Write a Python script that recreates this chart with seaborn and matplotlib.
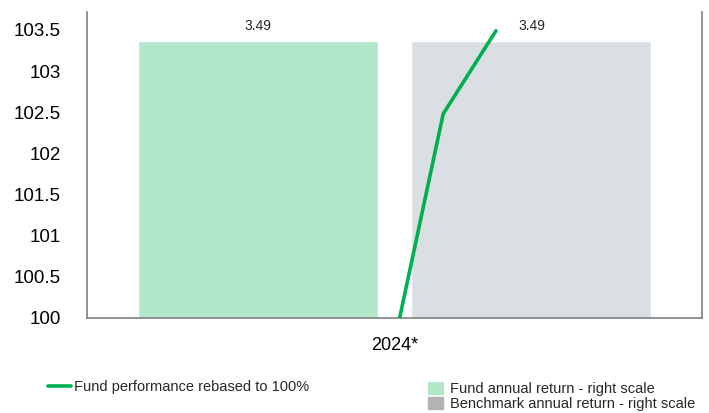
import pandas as pd
import matplotlib.pyplot as plt
from matplotlib.lines import Line2D
from matplotlib.patches import Patch
import seaborn as sns

# ================== DATA ==================
years = ["2024*"]
series = ["Fund annual return - right scale", "Benchmark annual return - right scale"]
annual_returns = [3.49, 3.49]

# fund performance rebased to 100 (x = month position within the year)
perf_months = [6.1, 6.95, 7.98]
perf_values = [100.0, 102.48, 103.49]

fund_color = "#b3e7cc"
bench_color = "#dadfe3"
bench_legend_color = "#b3b3b3"
line_color = "#00b050"
spine_color = "#808080"

sns.set_theme(style="white")
plt.rcParams["font.family"] = ["Liberation Sans", "DejaVu Sans"]

df = pd.DataFrame({"year": years * 2, "series": series, "ret": annual_returns})

fig = plt.figure(figsize=(7.09, 4.13), dpi=100)
rect = [87 / 709, 1 - 318 / 413, (702 - 87) / 709, (318 - 12) / 413]

# ---- bars (right scale, hidden) ----
ax_bar = fig.add_axes(rect)
sns.barplot(data=df, x="year", y="ret", hue="series", ax=ax_bar,
            palette=[fund_color, bench_color], width=0.891, gap=0.124,
            legend=False, saturation=1)
ax_bar.set_ylim(0, 3.855)
ax_bar.set_xlim(-0.5, 0.5)
ax_bar.set_yticks([])
ax_bar.set_ylabel("")
ax_bar.set_xlabel("")
ax_bar.tick_params(axis="x", length=0, pad=14, labelsize=13, colors="#000000")
for c in ax_bar.containers:
    ax_bar.bar_label(c, fmt="%.2f", padding=6, fontsize=10)
for side in ["left", "right", "bottom"]:
    ax_bar.spines[side].set_color(spine_color)
    ax_bar.spines[side].set_linewidth(1.2)
ax_bar.spines["top"].set_visible(False)

# ---- performance line (left scale) ----
ax_line = fig.add_axes(rect, frameon=False)
sns.lineplot(x=perf_months, y=perf_values, ax=ax_line, color=line_color, linewidth=2.6)
ax_line.set_xlim(0, 12)
ax_line.set_ylim(100, 103.718)
ax_line.set_xticks([])
ax_line.set_yticks([100, 100.5, 101, 101.5, 102, 102.5, 103, 103.5])
ax_line.set_yticklabels(["100", "100.5", "101", "101.5", "102", "102.5", "103", "103.5"])
ax_line.tick_params(axis="y", length=0, pad=19, labelsize=13.5, colors="#000000")

# ---- legends ----
fig.legend(handles=[Line2D([], [], color=line_color, linewidth=2.6)],
           labels=["Fund performance rebased to 100%"],
           loc="center left", bbox_to_anchor=(48 / 709, 1 - 387 / 413),
           frameon=False, fontsize=10.5, handlelength=1.58, handletextpad=0.2,
           borderpad=0, borderaxespad=0)
fig.legend(handles=[Patch(color=fund_color), Patch(color=bench_legend_color)],
           labels=series,
           loc="center left", bbox_to_anchor=(428 / 709, 1 - 396.5 / 413),
           frameon=False, fontsize=10.5, handlelength=1.03, handleheight=0.85,
           handletextpad=0.48, labelspacing=0.1, borderpad=0, borderaxespad=0)

fig.savefig("out.png", dpi=100)
